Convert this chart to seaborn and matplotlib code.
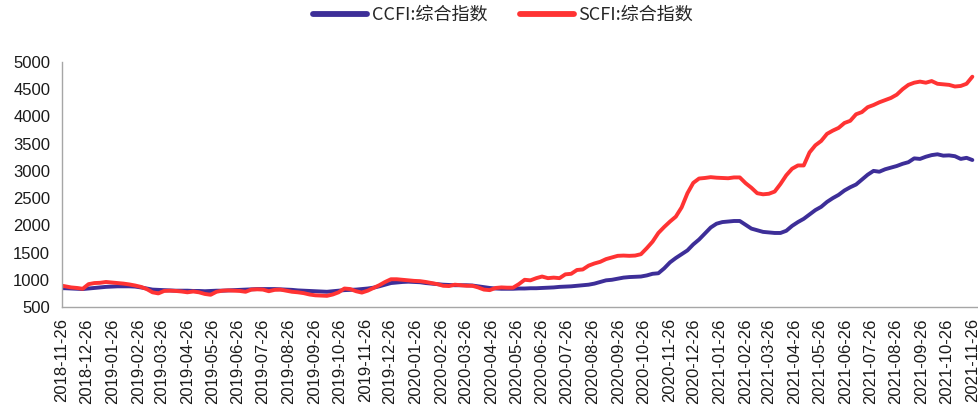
import pandas as pd
import matplotlib
matplotlib.use('Agg')
import matplotlib.pyplot as plt
import matplotlib.dates as mdates
import seaborn as sns

# weekly index readings (Fridays), 2018-11-23 .. 2021-11-26
dates = pd.date_range('2018-11-23', '2021-11-26', freq='W-FRI')

scfi_2018 = [900, 880, 860, 850, 835, 920]
scfi_2019 = [940, 945, 960, 950,
             940, 930, 915, 895,
             870, 830, 770, 750, 795,
             800, 795, 785, 770,
             785, 770, 740, 725, 780,
             800, 805, 800, 795,
             780, 820, 825, 820,
             790, 815, 820, 800, 780,
             770, 755, 730, 715,
             710, 705, 730, 770,
             840, 830, 790, 765, 800,
             850, 900, 960, 1010]
scfi_2020 = [1010, 1000, 990, 980, 975,
             960, 940, 920, 890,
             885, 910, 900, 890,
             890, 860, 820, 810,
             850, 860, 855, 855, 920,
             1000, 990, 1030, 1060,
             1030, 1040, 1030, 1100, 1110,
             1180, 1190, 1260, 1300,
             1330, 1380, 1410, 1440,
             1445, 1440, 1445, 1470, 1580,
             1700, 1860, 1970, 2070,
             2160, 2330, 2590, 2780]
scfi_2021 = [2860, 2870, 2885, 2875, 2870,
             2865, 2880, 2880, 2775,
             2690, 2590, 2570, 2580,
             2620, 2760, 2920, 3040, 3100,
             3100, 3340, 3470, 3550,
             3680, 3740, 3790, 3880,
             3920, 4040, 4080, 4170, 4210,
             4260, 4300, 4340, 4400,
             4500, 4580, 4620, 4640,
             4620, 4650, 4600, 4590, 4580,
             4550, 4560, 4600, 4730]

ccfi_2018 = [845, 845, 840, 835, 830, 840]
ccfi_2019 = [850, 860, 870, 875,
             880, 880, 880, 875,
             860, 840, 820, 815, 810,
             805, 800, 800, 800,
             795, 795, 790, 795, 800,
             800, 805, 810, 815,
             820, 825, 830, 830,
             830, 830, 825, 820, 815,
             805, 800, 795, 790,
             785, 780, 790, 800,
             810, 815, 820, 830, 840,
             855, 880, 910, 940]
ccfi_2020 = [950, 960, 965, 960, 955,
             940, 930, 920, 910,
             905, 900, 900, 900,
             895, 880, 865, 850,
             840, 835, 835, 835, 840,
             840, 845, 845, 850,
             855, 860, 870, 875, 880,
             890, 900, 910, 930,
             960, 990, 1000, 1020,
             1040, 1050, 1055, 1060, 1080,
             1110, 1120, 1210, 1320,
             1400, 1470, 1540, 1650]
ccfi_2021 = [1740, 1850, 1960, 2030, 2060,
             2070, 2080, 2080, 2010,
             1940, 1910, 1880, 1870,
             1860, 1860, 1900, 1990, 2060,
             2120, 2200, 2280, 2340,
             2430, 2500, 2560, 2640,
             2700, 2750, 2840, 2930, 3000,
             2985, 3030, 3060, 3090,
             3130, 3160, 3230, 3220,
             3260, 3290, 3305, 3280, 3285,
             3270, 3220, 3240, 3200]

ccfi = ccfi_2018 + ccfi_2019 + ccfi_2020 + ccfi_2021
scfi = scfi_2018 + scfi_2019 + scfi_2020 + scfi_2021
names = ['CCFI:综合指数', 'SCFI:综合指数']
colors = ['#3d2e98', '#ff3333']

df = pd.concat([
    pd.DataFrame({'date': dates, 'value': ccfi, 'series': names[0]}),
    pd.DataFrame({'date': dates, 'value': scfi, 'series': names[1]}),
])

sns.set_style('white')
plt.rcParams['font.family'] = ['Liberation Sans', 'Noto Sans CJK SC', 'DejaVu Sans']

fig = plt.figure(figsize=(9.79, 4.15), dpi=100)
ax = fig.add_axes([0.0633, 0.2602, 0.9367, 0.5904])

sns.lineplot(data=df, x='date', y='value', hue='series', ax=ax,
             palette=colors, linewidth=2.8, legend=False)

ax.set_ylim(500, 5000)
ax.set_yticks(range(500, 5001, 500))
ax.set_xlim(pd.Timestamp('2018-11-26'), pd.Timestamp('2021-12-04'))
ticks = pd.date_range('2018-11-01', '2021-11-01', freq='MS') + pd.Timedelta(days=25)
ax.set_xticks(ticks)
ax.xaxis.set_major_formatter(mdates.DateFormatter('%Y-%m-%d'))
ax.set_xlabel('')
ax.set_ylabel('')

for s in ['top', 'right']:
    ax.spines[s].set_visible(False)
for s in ['left', 'bottom']:
    ax.spines[s].set_color('#a6a6a6')
    ax.spines[s].set_linewidth(1.0)
ax.tick_params(axis='both', direction='out', length=5, width=1, color='#a6a6a6',
               labelsize=12, labelcolor='#1a1a1a')
ax.tick_params(axis='x', rotation=90, pad=3)

handles = [plt.Line2D([], [], color=c, linewidth=4.2) for c in colors]
fig.legend(handles, names, loc='center', bbox_to_anchor=(0.514, 0.964), ncol=2,
           frameon=False, handlelength=3.0, handletextpad=0.25, columnspacing=1.8,
           prop={'family': ['Noto Sans CJK SC', 'DejaVu Sans'], 'size': 13})

fig.savefig('out.png', dpi=100)
